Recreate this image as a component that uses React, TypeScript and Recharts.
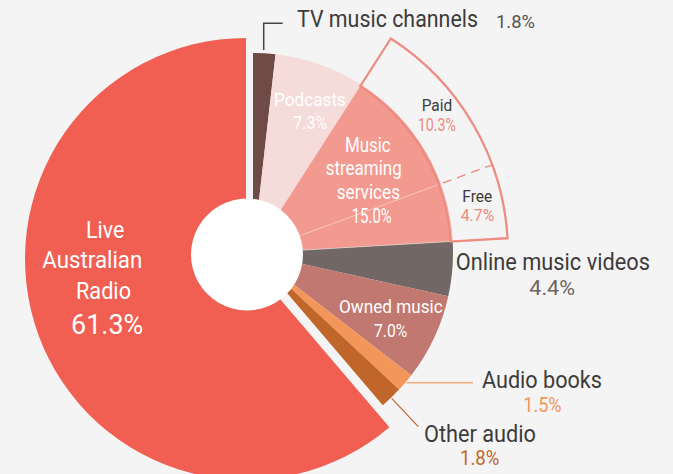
import React from 'react';
import { PieChart, Pie, Cell } from 'recharts';

const W = 673;
const H = 474;

// Slices run clockwise from 12 o'clock; radio (last) takes the rest of the circle.
const categories = [
  'TV music channels',
  'Podcasts',
  'Music streaming services',
  'Online music videos',
  'Owned music',
  'Audio books',
  'Other audio',
  'Live Australian Radio',
];
const shares = [1.8, 7.3, 15.0, 4.4, 7.0, 1.5, 1.8, 61.3];
const colors = ['#6f4a46', '#f5dcda', '#f29a8f', '#716866', '#c07871', '#f29659', '#c1662b', '#f15e52'];

// Music streaming broken into paid / free
const streamingParts = ['Paid', 'Free'];
const streamingShares = [10.3, 4.7];

const STREAM = 2;
const RADIO = categories.length - 1;
const FREE = STREAM + 1;

const data = categories.map((name, i) => ({ name, value: shares[i] }));
const splitData = [
  ...data.slice(0, STREAM),
  ...streamingParts.map((name, i) => ({ name, value: streamingShares[i] })),
  ...data.slice(STREAM + 1),
];

const pct = (v: number) => `${v.toFixed(1)}%`;

const OUTLINE = '#ef8c82';
const DARK = '#3d3b3b';
const WHITE = '#ffffff';

type Lbl = { text: string; x: number; y: number; w: number; size: number; color: string };

const labels: Lbl[] = [
  { text: categories[0], x: 297, y: 27, w: 181, size: 23, color: DARK },
  { text: pct(shares[0]), x: 496, y: 27.5, w: 39, size: 19, color: '#555' },

  { text: categories[1], x: 274, y: 106, w: 72, size: 18, color: WHITE },
  { text: pct(shares[1]), x: 293.3, y: 129, w: 34, size: 18, color: WHITE },

  { text: streamingParts[0], x: 421.7, y: 111, w: 30.6, size: 17, color: DARK },
  { text: pct(streamingShares[0]), x: 417.7, y: 130.7, w: 38.3, size: 18, color: '#f08a7e' },
  { text: streamingParts[1], x: 462.3, y: 202.2, w: 30, size: 16.5, color: DARK },
  { text: pct(streamingShares[1]), x: 460.7, y: 221.3, w: 33.6, size: 16.8, color: '#f08a7e' },

  { text: 'Music', x: 345, y: 151.7, w: 45.7, size: 19.5, color: WHITE },
  { text: 'streaming', x: 325.7, y: 174.5, w: 76, size: 19.5, color: WHITE },
  { text: 'services', x: 336.7, y: 199, w: 63.3, size: 19.5, color: WHITE },
  { text: pct(shares[2]), x: 351.7, y: 222.5, w: 40, size: 19.5, color: WHITE },

  { text: categories[3], x: 455.7, y: 270.3, w: 194.3, size: 23.5, color: DARK },
  { text: pct(shares[3]), x: 529.3, y: 295, w: 45.7, size: 21, color: '#6d6360' },

  { text: categories[4], x: 339, y: 312.7, w: 103.7, size: 18.5, color: WHITE },
  { text: pct(shares[4]), x: 374, y: 336.7, w: 33.3, size: 18.5, color: WHITE },

  { text: categories[5], x: 482, y: 388.3, w: 120, size: 23.5, color: DARK },
  { text: pct(shares[5]), x: 523.3, y: 411.7, w: 38.3, size: 21, color: '#f29659' },

  { text: categories[6], x: 424, y: 441.7, w: 112, size: 23.5, color: DARK },
  { text: pct(shares[6]), x: 460, y: 465, w: 39.3, size: 21, color: '#c1662b' },

  { text: 'Live', x: 86, y: 238, w: 38.3, size: 23.5, color: WHITE },
  { text: 'Australian', x: 42.3, y: 268, w: 100, size: 23.5, color: WHITE },
  { text: 'Radio', x: 76, y: 299, w: 55, size: 23.5, color: WHITE },
  { text: pct(shares[7]), x: 71, y: 334, w: 72.3, size: 28, color: WHITE },
];

const common = {
  dataKey: 'value',
  startAngle: 90,
  endAngle: -270,
  isAnimationActive: false,
  stroke: 'none',
};

export default function App() {
  return (
    <div
      style={{
        position: 'absolute',
        left: 0,
        top: 0,
        width: W,
        height: H,
        background: '#f4f4f4',
        overflow: 'hidden',
        fontFamily: 'Roboto, sans-serif',
      }}
    >
      <PieChart width={W} height={H} margin={{ top: 0, right: 0, bottom: 0, left: 0 }}>
        {/* radio, pulled out to the left */}
        <Pie data={data} {...common} cx={246} cy={259} outerRadius={221}>
          {data.map((d, i) => (
            <Cell key={d.name} fill={i === RADIO ? colors[i] : 'transparent'} />
          ))}
        </Pie>
        {/* everything else */}
        <Pie data={data} {...common} cx={253} cy={253} outerRadius={200}>
          {data.map((d, i) => (
            <Cell key={d.name} fill={i === RADIO ? 'transparent' : colors[i]} />
          ))}
        </Pie>
        {/* faint paid/free divider inside streaming */}
        <Pie data={splitData} {...common} cx={253} cy={253} outerRadius={199} fill="none">
          {splitData.map((d, i) => (
            <Cell
              key={d.name}
              fill="none"
              stroke={i === FREE ? 'rgba(255,255,255,0.55)' : 'none'}
              strokeWidth={0.8}
            />
          ))}
        </Pie>
        {/* white hole */}
        <Pie data={[{ name: 'hole', value: 1 }]} {...common} cx={247} cy={254.5} outerRadius={56}>
          <Cell fill="#ffffff" />
        </Pie>
        {/* dashed paid/free divider in outline */}
        <Pie data={splitData} {...common} cx={253} cy={253} innerRadius={198} outerRadius={255} fill="none">
          {splitData.map((d, i) => (
            <Cell
              key={d.name}
              fill="none"
              stroke={i === FREE ? OUTLINE : 'none'}
              strokeWidth={1.4}
              strokeDasharray="9 6"
            />
          ))}
        </Pie>
        {/* outline around streaming */}
        <Pie data={data} {...common} cx={253} cy={253} innerRadius={198} outerRadius={255} fill="none">
          {data.map((d, i) => (
            <Cell key={d.name} fill="none" stroke={i === STREAM ? OUTLINE : 'none'} strokeWidth={2.2} />
          ))}
        </Pie>
      </PieChart>

      <svg
        width={W}
        height={H}
        style={{ position: 'absolute', left: 0, top: 0, pointerEvents: 'none' }}
      >
        <polyline points="263.7,50 263.7,23.3 282.7,23.3" fill="none" stroke="#444" strokeWidth={1.5} />
        <line x1={406.7} y1={382.7} x2={473} y2={382.7} stroke="#f4ab7c" strokeWidth={1.5} />
        <line x1={391.7} y1={398.3} x2={418.3} y2={426.7} stroke="#c1662b" strokeWidth={1.2} />
        {labels.map((l, i) => (
          <text
            key={i}
            x={l.x}
            y={l.y}
            fontSize={l.size}
            fill={l.color}
            textLength={l.w}
            lengthAdjust="spacingAndGlyphs"
            fontFamily="Roboto, sans-serif"
          >
            {l.text}
          </text>
        ))}
      </svg>
    </div>
  );
}
